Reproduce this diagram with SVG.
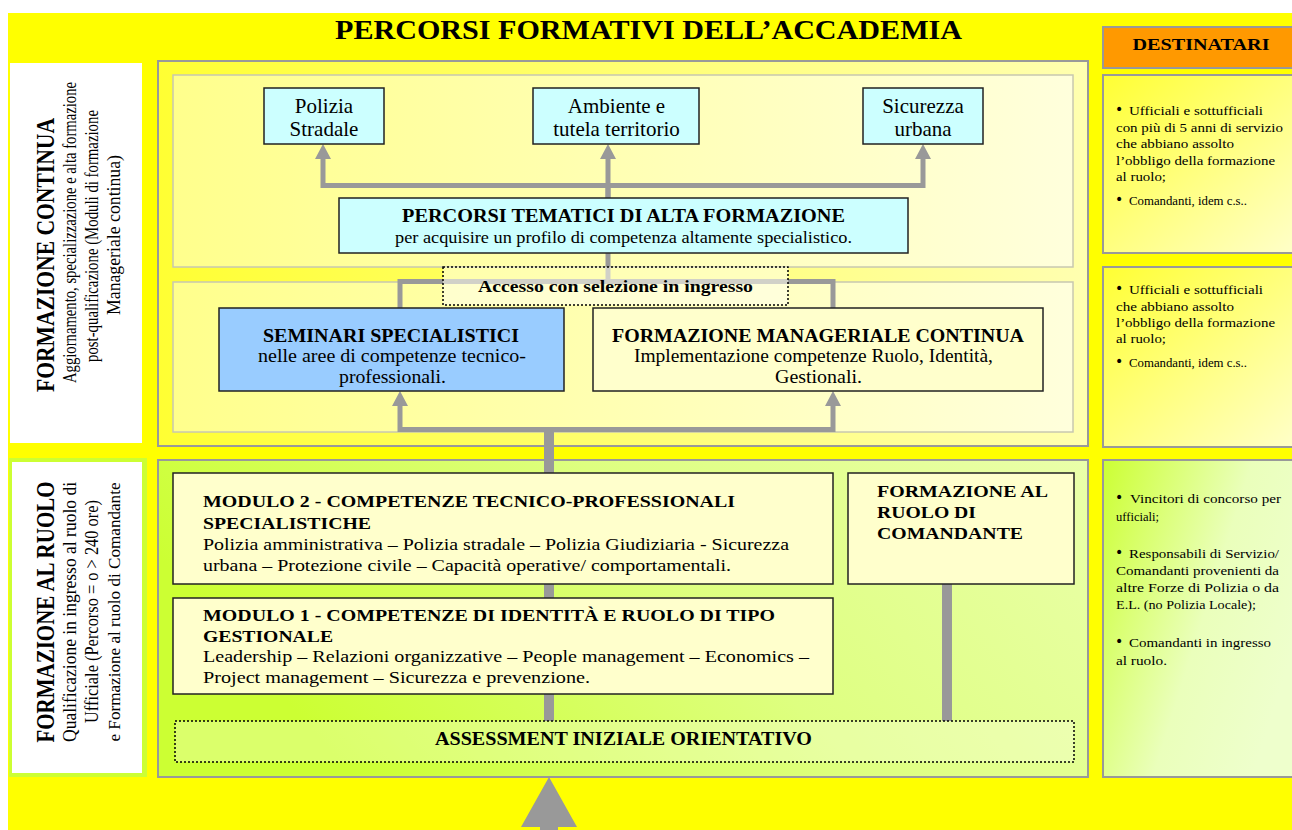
<svg xmlns="http://www.w3.org/2000/svg" width="1292" height="830" viewBox="0 0 1292 830">
<defs>
<style>
text{font-family:"Liberation Serif","Times New Roman",serif;fill:#000}
.b{font-weight:bold}
.c{text-anchor:middle}
.box{stroke:#222;stroke-width:1.5}
.cyan{fill:#ccffff}
.cream{fill:#ffffcc}
.blue{fill:#99ccff}
.dot{fill:#ffffee;fill-opacity:0.55;stroke:#000;stroke-width:1.5;stroke-dasharray:2 2}
.conn{fill:none;stroke:#999;stroke-width:5}
.trunk{fill:none;stroke:#999;stroke-width:10}
.rp{font-size:13.5px}
text.bul{font-family:"DejaVu Sans",sans-serif;font-size:14px}
.pan{stroke:#999;stroke-width:2}
.inner{stroke:#c8c8b0;stroke-width:1.5}
</style>
<linearGradient id="gOuter" x1="0" y1="0" x2="1" y2="0">
<stop offset="0" stop-color="#ffff33"/><stop offset="1" stop-color="#ffffb0"/>
</linearGradient>
<linearGradient id="gInner" x1="0" y1="0" x2="1" y2="0">
<stop offset="0" stop-color="#ffff8c"/><stop offset="1" stop-color="#ffffdc"/>
</linearGradient>
<linearGradient id="gLime" x1="0" y1="0.3" x2="1" y2="0">
<stop offset="0" stop-color="#ccff33"/><stop offset="0.5" stop-color="#deff80"/><stop offset="1" stop-color="#eaffaa"/>
</linearGradient>
<linearGradient id="gRY" x1="0" y1="0" x2="1" y2="1">
<stop offset="0" stop-color="#ffff33"/><stop offset="1" stop-color="#ffffcc"/>
</linearGradient>
<linearGradient id="gRL" x1="0" y1="0" x2="1" y2="0.5">
<stop offset="0" stop-color="#ccff33"/><stop offset="0.6" stop-color="#eaffbb"/><stop offset="1" stop-color="#eeffcc"/>
</linearGradient>
<marker id="ah" markerUnits="userSpaceOnUse" viewBox="0 0 15 16" markerWidth="15" markerHeight="16" refX="0" refY="8" orient="auto">
<path d="M0,0 L15,8 L0,16 z" fill="#999"/>
</marker>
</defs>

<!-- background -->
<rect x="0" y="0" width="1292" height="830" fill="#ffffff"/>
<rect x="8" y="13" width="1284" height="817" fill="#ffff00"/>

<!-- title -->
<text id="title" class="b c" x="648.5" y="38.5" font-size="26.5" textLength="627" lengthAdjust="spacingAndGlyphs">PERCORSI FORMATIVI DELL’ACCADEMIA</text>

<!-- section panels -->
<g id="panel-continua">
<rect x="158" y="61" width="930" height="385" fill="url(#gOuter)" class="pan"/>
<rect x="173" y="75" width="900" height="192" fill="url(#gInner)" class="inner"/>
<rect x="173" y="282" width="900" height="150" fill="url(#gInner)" class="inner"/>
</g>
<g id="panel-ruolo">
<rect x="158" y="460" width="930" height="317" fill="url(#gLime)" class="pan"/>
</g>

<!-- left labels -->
<g id="label-continua">
<rect x="10" y="63" width="132" height="380" fill="#ffffff"/>
<text class="b c" transform="translate(54,255) rotate(-90)" font-size="25" textLength="274" lengthAdjust="spacingAndGlyphs">FORMAZIONE CONTINUA</text>
<text class="c" transform="translate(76,232.5) rotate(-90)" font-size="18" textLength="301" lengthAdjust="spacingAndGlyphs">Aggiornamento, specializzazione e alta formazione</text>
<text class="c" transform="translate(98,236) rotate(-90)" font-size="18" textLength="252" lengthAdjust="spacingAndGlyphs">post-qualificazione  (Moduli di formazione</text>
<text class="c" transform="translate(120,235) rotate(-90)" font-size="18" textLength="160" lengthAdjust="spacingAndGlyphs">Manageriale continua)</text>
</g>
<g id="label-ruolo">
<rect x="9" y="458" width="138" height="319" fill="#ccff33"/>
<rect x="12" y="462" width="130" height="311" fill="#ffffff"/>
<text class="b c" transform="translate(54,612) rotate(-90)" font-size="25" textLength="261" lengthAdjust="spacingAndGlyphs">FORMAZIONE AL RUOLO</text>
<text class="c" transform="translate(76,612) rotate(-90)" font-size="18" textLength="260" lengthAdjust="spacingAndGlyphs">Qualificazione in ingresso al ruolo di</text>
<text class="c" transform="translate(98,611.5) rotate(-90)" font-size="18" textLength="223" lengthAdjust="spacingAndGlyphs">Ufficiale (Percorso = o &gt; 240 ore)</text>
<text class="c" transform="translate(120,612) rotate(-90)" font-size="16.5" textLength="259" lengthAdjust="spacingAndGlyphs">e Formazione al ruolo di Comandante</text>
</g>

<!-- right column -->
<g id="destinatari">
<rect x="1103" y="27" width="200" height="41" fill="#ff9900" class="pan"/>
<text class="b c" x="1201" y="50" font-size="17" textLength="137" lengthAdjust="spacingAndGlyphs">DESTINATARI</text>
</g>
<g id="dest-continua-1">
<rect x="1103" y="75" width="200" height="178" fill="url(#gRY)" class="pan"/>
<text class="bul" x="1115" y="114">•</text>
<text class="rp" x="1129" y="115" textLength="134" lengthAdjust="spacingAndGlyphs">Ufficiali e sottufficiali</text>
<text class="rp" x="1116" y="132" textLength="167" lengthAdjust="spacingAndGlyphs">con più di 5 anni di servizio</text>
<text class="rp" x="1116" y="148" textLength="118" lengthAdjust="spacingAndGlyphs">che abbiano assolto</text>
<text class="rp" x="1116" y="165" textLength="159" lengthAdjust="spacingAndGlyphs">l’obbligo della formazione</text>
<text class="rp" x="1116" y="181" textLength="50" lengthAdjust="spacingAndGlyphs">al ruolo;</text>
<text class="bul" x="1115" y="204">•</text>
<text class="rp" x="1129" y="205" textLength="118" lengthAdjust="spacingAndGlyphs">Comandanti, idem c.s..</text>
</g>
<g id="dest-continua-2">
<rect x="1103" y="267" width="200" height="180" fill="url(#gRY)" class="pan"/>
<text class="bul" x="1115" y="293">•</text>
<text class="rp" x="1129" y="294" textLength="134" lengthAdjust="spacingAndGlyphs">Ufficiali e sottufficiali</text>
<text class="rp" x="1116" y="311" textLength="118" lengthAdjust="spacingAndGlyphs">che abbiano assolto</text>
<text class="rp" x="1116" y="327" textLength="159" lengthAdjust="spacingAndGlyphs">l’obbligo della formazione</text>
<text class="rp" x="1116" y="343" textLength="50" lengthAdjust="spacingAndGlyphs">al ruolo;</text>
<text class="bul" x="1115" y="366">•</text>
<text class="rp" x="1129" y="367" textLength="118" lengthAdjust="spacingAndGlyphs">Comandanti, idem c.s..</text>
</g>
<g id="dest-ruolo">
<rect x="1103" y="460" width="200" height="317" fill="url(#gRL)" class="pan"/>
<text class="bul" x="1115" y="502">•</text>
<text class="rp" x="1130" y="503" textLength="151" lengthAdjust="spacingAndGlyphs">Vincitori di concorso per</text>
<text class="rp" x="1116" y="521" textLength="43" lengthAdjust="spacingAndGlyphs">ufficiali;</text>
<text class="bul" x="1115" y="557">•</text>
<text class="rp" x="1129" y="558" textLength="150" lengthAdjust="spacingAndGlyphs">Responsabili di Servizio/</text>
<text class="rp" x="1116" y="575" textLength="163" lengthAdjust="spacingAndGlyphs">Comandanti provenienti da</text>
<text class="rp" x="1116" y="592" textLength="163" lengthAdjust="spacingAndGlyphs">altre Forze di Polizia o da</text>
<text class="rp" x="1116" y="609" textLength="140" lengthAdjust="spacingAndGlyphs">E.L. (no Polizia Locale);</text>
<text class="bul" x="1115" y="646">•</text>
<text class="rp" x="1129" y="647" textLength="142" lengthAdjust="spacingAndGlyphs">Comandanti in ingresso</text>
<text class="rp" x="1116" y="665" textLength="51" lengthAdjust="spacingAndGlyphs">al ruolo.</text>
</g>

<!-- connectors -->
<g id="connectors">
<path class="conn" d="M608,198 V185.5 H323 V159" marker-end="url(#ah)"/>
<path class="conn" d="M608,185.5 H923 V159" marker-end="url(#ah)"/>
<path class="conn" d="M608,198 V159" marker-end="url(#ah)"/>
<path class="conn" d="M608,253 V281.5 H400 V308"/>
<path class="conn" d="M608,281.5 H833 V308"/>
<path class="conn" d="M549,429.5 H400 V406" marker-end="url(#ah)"/>
<path class="conn" d="M549,429.5 H833 V406" marker-end="url(#ah)"/>
<path class="trunk" d="M549,427 V721"/>
<path class="trunk" d="M947,584 V721" stroke-width="9"/>
<path d="M549,777 L577,827 L558,827 L558,830 L540,830 L540,827 L521,827 Z" fill="#999"/>
</g>

<!-- nodes -->
<g id="polizia-stradale">
<rect x="264" y="88" width="120" height="56" class="box cyan"/>
<text class="c" x="324" y="113" font-size="21">Polizia</text>
<text class="c" x="324" y="136" font-size="21">Stradale</text>
</g>
<g id="ambiente">
<rect x="533" y="88" width="166" height="56" class="box cyan"/>
<text class="c" x="616.5" y="113" font-size="21">Ambiente e</text>
<text class="c" x="616.5" y="136" font-size="21">tutela territorio</text>
</g>
<g id="sicurezza-urbana">
<rect x="863" y="88" width="120" height="56" class="box cyan"/>
<text class="c" x="923" y="113" font-size="21">Sicurezza</text>
<text class="c" x="923" y="136" font-size="21">urbana</text>
</g>
<g id="percorsi-tematici">
<rect x="339" y="198" width="569" height="55" class="box cyan"/>
<text class="b c" x="623.5" y="222" font-size="19" textLength="443" lengthAdjust="spacingAndGlyphs">PERCORSI TEMATICI DI ALTA FORMAZIONE</text>
<text class="c" x="623.5" y="243" font-size="17" textLength="457" lengthAdjust="spacingAndGlyphs">per acquisire un profilo di competenza altamente specialistico.</text>
</g>
<g id="accesso">
<rect x="443" y="267" width="345" height="38" class="dot"/>
<text class="b c" x="615.5" y="292" font-size="17.5" textLength="275" lengthAdjust="spacingAndGlyphs">Accesso con selezione in ingresso</text>
</g>
<g id="seminari">
<rect x="219" y="308" width="345" height="83" class="box blue"/>
<text class="b c" x="391" y="342" font-size="18.5" textLength="256" lengthAdjust="spacingAndGlyphs">SEMINARI SPECIALISTICI</text>
<text class="c" x="392" y="362" font-size="18" textLength="268" lengthAdjust="spacingAndGlyphs">nelle aree di competenze tecnico-</text>
<text class="c" x="392.5" y="383" font-size="18" textLength="107" lengthAdjust="spacingAndGlyphs">professionali.</text>
</g>
<g id="manageriale">
<rect x="593" y="308" width="450" height="83" class="box cream"/>
<text class="b c" x="818" y="342" font-size="18" textLength="412" lengthAdjust="spacingAndGlyphs">FORMAZIONE MANAGERIALE CONTINUA</text>
<text class="c" x="813.5" y="362" font-size="18" textLength="359" lengthAdjust="spacingAndGlyphs">Implementazione competenze Ruolo, Identità,</text>
<text class="c" x="818.5" y="383" font-size="18" textLength="87" lengthAdjust="spacingAndGlyphs">Gestionali.</text>
</g>
<g id="modulo-2">
<rect x="173" y="473" width="660" height="111" class="box cream"/>
<text class="b" x="203" y="507" font-size="17" textLength="532" lengthAdjust="spacingAndGlyphs">MODULO 2 - COMPETENZE TECNICO-PROFESSIONALI</text>
<text class="b" x="203" y="528.5" font-size="17" textLength="168" lengthAdjust="spacingAndGlyphs">SPECIALISTICHE</text>
<text x="203" y="550" font-size="17" textLength="586" lengthAdjust="spacingAndGlyphs">Polizia amministrativa – Polizia stradale – Polizia Giudiziaria - Sicurezza</text>
<text x="203" y="571" font-size="17" textLength="528" lengthAdjust="spacingAndGlyphs">urbana – Protezione civile – Capacità operative/ comportamentali.</text>
</g>
<g id="modulo-1">
<rect x="173" y="598" width="660" height="96" class="box cream"/>
<text class="b" x="203" y="621" font-size="17" textLength="572" lengthAdjust="spacingAndGlyphs">MODULO 1 - COMPETENZE DI IDENTITÀ E RUOLO DI TIPO</text>
<text class="b" x="203" y="642" font-size="17" textLength="130" lengthAdjust="spacingAndGlyphs">GESTIONALE</text>
<text x="203" y="662" font-size="17" textLength="606" lengthAdjust="spacingAndGlyphs">Leadership – Relazioni organizzative – People management –  Economics –</text>
<text x="203" y="683" font-size="17" textLength="387" lengthAdjust="spacingAndGlyphs">Project management –  Sicurezza e prevenzione.</text>
</g>
<g id="comandante">
<rect x="848" y="473" width="226" height="111" class="box cream"/>
<text class="b" x="877" y="497" font-size="17" textLength="171" lengthAdjust="spacingAndGlyphs">FORMAZIONE AL</text>
<text class="b" x="877" y="518" font-size="17" textLength="99" lengthAdjust="spacingAndGlyphs">RUOLO DI</text>
<text class="b" x="877" y="539" font-size="17" textLength="146" lengthAdjust="spacingAndGlyphs">COMANDANTE</text>
</g>
<g id="assessment">
<rect x="175" y="721" width="899" height="41" class="dot" style="fill-opacity:0.3"/>
<text class="b c" x="623.5" y="745" font-size="18" textLength="377" lengthAdjust="spacingAndGlyphs">ASSESSMENT INIZIALE ORIENTATIVO</text>
</g>
</svg>
